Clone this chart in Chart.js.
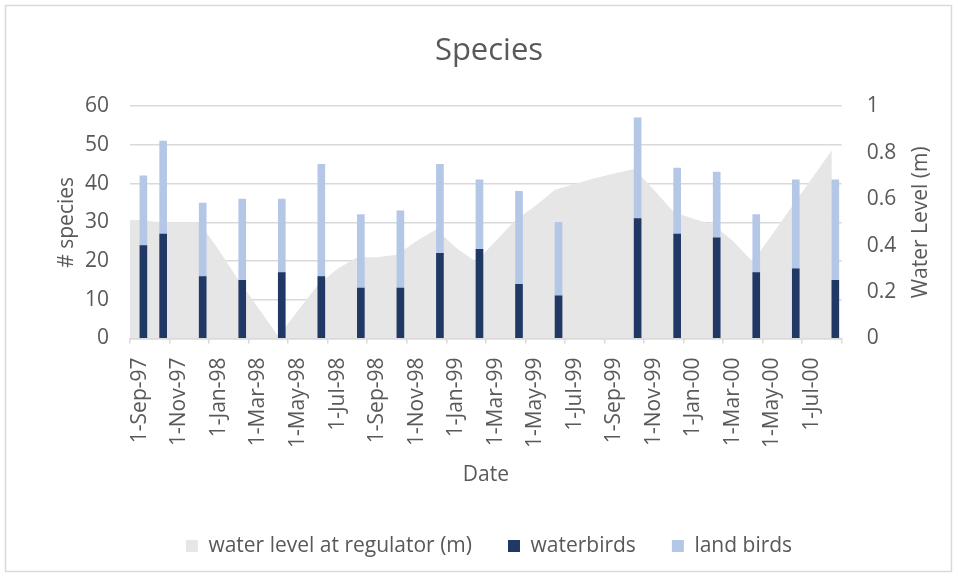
<!DOCTYPE html>
<html>
<head>
<meta charset="utf-8">
<script src="https://cdn.jsdelivr.net/npm/chart.js@4/dist/chart.umd.min.js"></script>
<style>
  html, body { margin: 0; padding: 0; background: #ffffff; }
  #wrap { width: 958px; height: 578px; position: relative; }
</style>
</head>
<body>
<div id="wrap"><canvas id="c" width="958" height="578"></canvas></div>
<script>
// ---- data ----
const chartTitle = 'Species';
const xTitle = 'Date';
const yTitle = '# species';
const y1Title = 'Water Level (m)';

// month slots on the date axis (base unit = month)
const months = ['1-Sep-97','1-Oct-97','1-Nov-97','1-Dec-97','1-Jan-98','1-Feb-98','1-Mar-98','1-Apr-98',
  '1-May-98','1-Jun-98','1-Jul-98','1-Aug-98','1-Sep-98','1-Oct-98','1-Nov-98','1-Dec-98',
  '1-Jan-99','1-Feb-99','1-Mar-99','1-Apr-99','1-May-99','1-Jun-99','1-Jul-99','1-Aug-99',
  '1-Sep-99','1-Oct-99','1-Nov-99','1-Dec-99','1-Jan-00','1-Feb-00','1-Mar-00','1-Apr-00',
  '1-May-00','1-Jun-00','1-Jul-00','1-Aug-00'];

// survey dates for the bird counts
const surveyDates = ['1-Sep-97','1-Oct-97','1-Dec-97','1-Feb-98','1-Apr-98','1-Jun-98','1-Aug-98','1-Oct-98',
  '1-Dec-98','1-Feb-99','1-Apr-99','1-Jun-99','1-Oct-99','1-Dec-99','1-Feb-00','1-Apr-00','1-Jun-00','1-Aug-00'];
const waterbirds = [24,27,16,15,17,16,13,13,22,23,14,11,31,27,26,17,18,15];
const landBirds  = [18,24,19,21,19,29,19,20,23,18,24,19,26,17,17,15,23,26];

// water level at regulator (m), monthly
const levelDates = ['1-Aug-97','1-Sep-97','1-Oct-97','1-Nov-97','1-Dec-97','1-Jan-98','1-Feb-98','1-Mar-98','1-Apr-98',
  '1-May-98','1-Jun-98','1-Jul-98','1-Aug-98','1-Sep-98','1-Oct-98','1-Nov-98','1-Dec-98',
  '1-Jan-99','1-Feb-99','1-Mar-99','1-Apr-99','1-May-99','1-Jun-99','1-Jul-99','1-Aug-99',
  '1-Sep-99','1-Oct-99','1-Nov-99','1-Dec-99','1-Jan-00','1-Feb-00','1-Mar-00','1-Apr-00',
  '1-May-00','1-Jun-00','1-Jul-00','1-Aug-00'];
const waterLevel = [0.51,0.51,0.50,0.50,0.50,0.38,0.25,0.13,0.01,
  0.12,0.23,0.30,0.35,0.35,0.36,0.42,0.47,
  0.39,0.33,0.42,0.51,0.57,0.64,0.665,0.69,
  0.71,0.73,0.64,0.545,0.515,0.49,0.42,0.33,
  0.45,0.57,0.69,0.81];

// ---- helpers to map dates to month slots ----
const MON = {Jan:0,Feb:1,Mar:2,Apr:3,May:4,Jun:5,Jul:6,Aug:7,Sep:8,Oct:9,Nov:10,Dec:11};
function monthSlot(label) {
  const p = label.split('-');
  const yy = parseInt(p[2], 10);
  const yr = yy < 50 ? 2000 + yy : 1900 + yy;
  return (yr - 1997) * 12 + MON[p[1]] - 8;
}
const wbSeries = months.map(() => null);
const lbSeries = months.map(() => null);
surveyDates.forEach((d, i) => { const k = monthSlot(d); wbSeries[k] = waterbirds[i]; lbSeries[k] = landBirds[i]; });
const levelPoints = levelDates.map((d, i) => ({ x: monthSlot(d) + 0.5, y: waterLevel[i] }));

const TXT = '#595959';
const GRID = '#d9d9d9';
const FS = 21;
Chart.defaults.font.family = "'Open Sans', sans-serif";
Chart.defaults.color = TXT;

const framePlugin = {
  id: 'frame',
  beforeDraw(chart) {
    const c = chart.ctx;
    c.save();
    c.fillStyle = '#ffffff';
    c.fillRect(0, 0, chart.width, chart.height);
    c.strokeStyle = GRID;
    c.lineWidth = 1.5;
    c.strokeRect(5.5, 5.5, 946, 566);
    c.restore();
  },
  afterDraw(chart) {
    const s = chart.scales.y1;
    const a = chart.chartArea;
    const c = chart.ctx;
    c.save();
    c.fillStyle = TXT;
    c.font = FS + "px 'Open Sans', sans-serif";
    c.textAlign = 'center';
    c.textBaseline = 'middle';
    c.translate(s.right - 37, (a.top + a.bottom) / 2);
    c.rotate(-Math.PI / 2);
    c.fillText(y1Title, 0, 0);
    c.restore();
  }
};

new Chart(document.getElementById('c'), {
  plugins: [framePlugin],
  data: {
    labels: months,
    datasets: [
      { type: 'line', label: 'water level at regulator (m)', data: levelPoints, xAxisID: 'xl', yAxisID: 'y1',
        fill: 'origin', backgroundColor: '#e7e6e6', borderColor: '#e7e6e6', borderWidth: 0,
        pointRadius: 0, tension: 0, order: 3 },
      { type: 'bar', label: 'waterbirds', data: wbSeries, xAxisID: 'x', yAxisID: 'y',
        backgroundColor: '#203864', barThickness: 7, order: 1 },
      { type: 'bar', label: 'land birds', data: lbSeries, xAxisID: 'x', yAxisID: 'y',
        backgroundColor: '#b4c7e7', barThickness: 7, order: 1 }
    ]
  },
  options: {
    responsive: false,
    animation: false,
    layout: { padding: { left: 20, right: 0, top: 0, bottom: 11.5 } },
    plugins: {
      tooltip: { enabled: false },
      title: { display: true, text: chartTitle, color: TXT,
        font: { size: 31, weight: 'normal' }, padding: { top: 33, bottom: 36 } },
      legend: { position: 'bottom',
        labels: { color: TXT, font: { size: FS }, boxWidth: 12, boxHeight: 12, padding: 36,
          sort: (a, b) => a.datasetIndex - b.datasetIndex } }
    },
    scales: {
      x: { type: 'category', position: 'bottom', offset: true, stacked: true,
        grid: { offset: true, drawOnChartArea: false, drawTicks: true, tickLength: 5, lineWidth: 1.5,
          color: (ctx) => (ctx.index === undefined || ctx.index % 2 === 0) ? GRID : 'rgba(0,0,0,0)' },
        border: { display: true, color: GRID, width: 1.5 },
        ticks: { autoSkip: false, maxRotation: 90, minRotation: 90, padding: 14, color: TXT,
          font: { size: FS }, callback: (v, i) => (i % 2 === 0 ? months[i] : '') },
        title: { display: true, text: xTitle, color: TXT, font: { size: FS }, padding: { top: 0, bottom: 12 } },
        afterFit: (s) => { s.height = 161; } },
      xl: { type: 'linear', axis: 'x', position: 'bottom', display: false, min: 0, max: 36 },
      y: { position: 'left', min: 0, max: 60, stacked: true,
        ticks: { stepSize: 10, padding: 21, color: TXT, font: { size: FS } },
        grid: { color: GRID, lineWidth: 1.5, drawTicks: false },
        border: { display: false },
        title: { display: true, text: yTitle, color: TXT, font: { size: FS }, padding: { top: 34, bottom: 0 } },
        afterFit: (s) => { s.width = 110; } },
      y1: { position: 'right', min: 0, max: 1,
        ticks: { stepSize: 0.2, padding: 25, color: TXT, font: { size: FS },
          callback: (v) => String(Number(v.toFixed(1))) },
        grid: { drawOnChartArea: false, drawTicks: false },
        border: { display: false },
        afterFit: (s) => { s.width = 116.3; } }
    }
  }
});
</script>
</body>
</html>
